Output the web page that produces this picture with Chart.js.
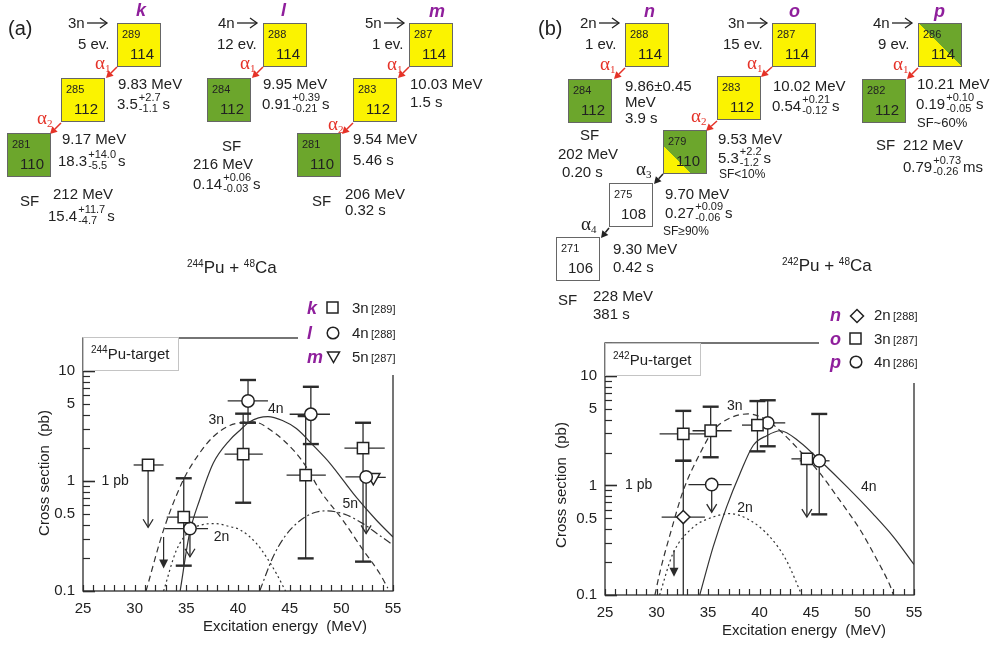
<!DOCTYPE html>
<html>
<head>
<meta charset="utf-8">
<script src="https://cdn.jsdelivr.net/npm/chart.js@4.4.1/dist/chart.umd.min.js"></script>
<style>
  html, body { margin: 0; padding: 0; background: #fff; }
  body { width: 991px; height: 646px; position: relative; overflow: hidden;
         font-family: "Liberation Sans", Arial, sans-serif; color: #222; }
  .t { position: absolute; white-space: nowrap; line-height: 1; }
  .ss { display: inline-block; font-size: 11px; line-height: 11px; vertical-align: -3px;
        margin-top: -4.6px; margin-left: 1px; margin-right: 2px; }
  .ss span { display: block; }
  .nuc { position: absolute; width: 42px; height: 42px; border: 1.5px solid #666; }
  .nuc .a { position: absolute; left: 4px; top: 5px; font-size: 11px; line-height: 1; }
  .nuc .z { position: absolute; right: 6px; bottom: 5px; font-size: 15px; line-height: 1; }
  .alpha { font-family: "Liberation Serif", "DejaVu Serif", serif; font-size: 19px; color: #e53228; }
  .alpha.k { color: #222; }
  .alpha .sb { font-size: 11px; vertical-align: -3px; }
  .tag { color: #8f1f9c; font-weight: bold; font-style: italic; font-size: 18px; }
  .chartbox { position: absolute; }
  .legend { position: absolute; background: #fff; }
  .legend .row { position: absolute; left: 0; white-space: nowrap; height: 20px; line-height: 20px; font-size: 15px; }
  .legend .row span { position: absolute; top: 0; }
  .legend .ref { font-size: 11px; }
  .target { position: absolute; border: 1px solid #c4c4c4; background: #fff; box-sizing: border-box; }
  .target span { position: absolute; left: 7px; top: 8px; font-size: 15px; line-height: 1; white-space: nowrap; }
  sup { font-size: 10px; vertical-align: 6px; line-height: 0; }
</style>
</head>
<body>
<div class="chartbox" id="boxA" style="left:0px;top:290px;width:420px;height:351px;"><canvas id="chartA"></canvas></div>
<div class="chartbox" id="boxB" style="left:522px;top:300px;width:419px;height:345px;"><canvas id="chartB"></canvas></div>

<script>
// ---------------- axis values ----------------
const energyTicks = [25, 30, 35, 40, 45, 50, 55];
const sigmaTickLabels = [0.1, 0.5, 1, 5, 10];

// ---------------- 244Pu + 48Ca ----------------
// k : 3n channel, 289-114
const kEnergy   = [31.3, 34.75, 40.5, 46.55, 52.1];
const kSigma    = [1.40, 0.47, 1.76, 1.13, 1.99];
const kSigmaLo  = [null, 0.17, 0.635, 0.198, 0.185];
const kSigmaHi  = [null, 1.06, 4.1, 3.9, 3.39];
const kEnergyLo = [29.9, 33.1, 38.7, 44.7, 50.3];
const kEnergyHi = [32.8, 37.1, 42.4, 48.5, 54.2];
const kLimitTo  = [0.38, null, null, null, null];
// l : 4n channel, 288-114
const lEnergy   = [35.35, 40.97, 47.05, 52.4];
const lSigma    = [0.37, 5.35, 4.05, 1.09];
const lSigmaLo  = [null, 3.39, 2.17, null];
const lSigmaHi  = [null, 8.3, 7.2, null];
const lEnergyLo = [32.9, 39.0, 45.0, 50.4];
const lEnergyHi = [37.1, 42.9, 48.9, 53.6];
const lLimitTo  = [0.205, null, null, 0.334];
// m : 5n channel, 287-114
const mEnergy   = [53.1];
const mSigma    = [1.08];
const mEnergyLo = [52.0];
const mEnergyHi = [54.3];
// 2n upper limit
const pu244Limit2nEnergy = [32.8];
const pu244Limit2nFrom   = [0.31];
const pu244Limit2nTo     = [0.16];
// calculated excitation functions
const pu244Curve2nE = [32.8, 34.05, 35.3, 36.5, 37.8, 39.2, 40.2, 41.8, 42.8, 43.7, 44.6];
const pu244Curve2nS = [0.1, 0.236, 0.35, 0.4, 0.41, 0.385, 0.36, 0.27, 0.2, 0.145, 0.1];
const pu244Curve3nE = [31.1, 32.8, 34.7, 36.2, 37.6, 39.2, 40.5, 41.5, 43.4, 45.5, 46.6, 47.9, 50.15, 52.1, 53.7, 54.5];
const pu244Curve3nS = [0.1, 0.36, 1.02, 1.75, 2.53, 3.2, 3.42, 3.45, 2.8, 1.85, 1.35, 0.83, 0.44, 0.236, 0.145, 0.106];
const pu244Curve4nE = [34.4, 35.3, 36.3, 37.6, 39.2, 40.2, 41.1, 42.9, 44.3, 45.65, 47.3, 48.9, 51.4, 53.4, 55];
const pu244Curve4nS = [0.1, 0.33, 0.68, 1.45, 2.36, 2.9, 3.45, 3.85, 3.55, 3.0, 2.1, 1.45, 0.72, 0.44, 0.31];
const pu244Curve5nE = [42.1, 43.4, 44.5, 45.65, 47.0, 48.5, 50.3, 52.1, 53.5, 55];
const pu244Curve5nS = [0.1, 0.205, 0.31, 0.41, 0.5, 0.536, 0.5, 0.41, 0.33, 0.262];

// ---------------- 242Pu + 48Ca ----------------
// n : 2n channel, 288-114
const nEnergy   = [32.6];
const nSigma    = [0.515];
const nSigmaLo  = [0.05];
const nSigmaHi  = [1.68];
const nEnergyLo = [30.5];
const nEnergyHi = [34.7];
// o : 3n channel, 287-114
const oEnergy   = [32.6, 35.26, 39.8, 44.6];
const oSigma    = [2.96, 3.16, 3.56, 1.75];
const oSigmaLo  = [1.68, 1.81, 2.05, null];
const oSigmaHi  = [4.8, 5.24, 5.9, null];
const oEnergyLo = [30.3, 33.5, 38.3, 43.1];
const oEnergyHi = [34.9, 37.3, 40.5, 45.3];
const oLimitTo  = [null, null, null, 0.515];
// p : 4n channel, 286-114
const pEnergy   = [35.36, 40.8, 45.8];
const pSigma    = [1.02, 3.73, 1.68];
const pSigmaLo  = [null, 2.28, 0.545];
const pSigmaHi  = [null, 6.0, 4.5];
const pEnergyLo = [33.1, 39.8, 43.9];
const pEnergyHi = [37.3, 42.5, 46.8];
const pLimitTo  = [0.57, null, null];
// 2n upper limit
const pu242Limit2nEnergy = [31.7];
const pu242Limit2nFrom   = [0.256];
const pu242Limit2nTo     = [0.147];
// calculated excitation functions
const pu242Curve2nE = [30.3, 31.6, 33.6, 35.5, 37.1, 39.1, 41.0, 42.6, 44.1];
const pu242Curve2nS = [0.1, 0.239, 0.418, 0.515, 0.553, 0.48, 0.34, 0.208, 0.1];
const pu242Curve3nE = [29.85, 30.34, 31.4, 32.6, 34.2, 35.5, 37.1, 38.9, 40.7, 42.0, 43.9, 45.9, 47.8, 49.8, 51.4, 52.7, 53.0];
const pu242Curve3nS = [0.1, 0.163, 0.38, 0.9, 1.94, 3.16, 4.11, 4.5, 3.96, 3.16, 2.08, 1.28, 0.73, 0.39, 0.21, 0.12, 0.1];
const pu242Curve4nE = [34.2, 35.5, 36.8, 38.1, 39.4, 40.7, 42.0, 43.9, 45.9, 48.5, 51.0, 53.0, 55];
const pu242Curve4nS = [0.1, 0.275, 0.635, 1.28, 2.33, 2.85, 3.16, 2.5, 1.68, 0.97, 0.553, 0.34, 0.19];

// ---------------- helpers ----------------
const INK = '#2b2b2b';
const zip = (xs, ys) => xs.map((x, i) => ({ x, y: ys[i] }));
function points(E, S, sLo, sHi, eLo, eHi, lim) {
  return E.map((x, i) => ({
    x, y: S[i],
    yLo: sLo ? sLo[i] : null, yHi: sHi ? sHi[i] : null,
    xLo: eLo ? eLo[i] : null, xHi: eHi ? eHi[i] : null,
    limitTo: lim ? lim[i] : null
  }));
}
function limits(E, from, to) {
  return E.map((x, i) => ({ x, y: from[i], limitTo: to[i] }));
}
function curve(E, S, dash) {
  return { type: 'line', data: zip(E, S), borderColor: '#333', borderWidth: 1.2,
           borderDash: dash, pointRadius: 0, cubicInterpolationMode: 'monotone', fill: false, order: 2 };
}
function markers(data, style, radius, rotation) {
  return { type: 'scatter', data, errorBars: true, pointStyle: style, pointRadius: radius,
           rotation: rotation || 0, pointBackgroundColor: '#fff', pointBorderColor: '#222',
           pointBorderWidth: 1.5, order: 1 };
}

function line(ctx, x1, y1, x2, y2) { ctx.beginPath(); ctx.moveTo(x1, y1); ctx.lineTo(x2, y2); ctx.stroke(); }

const errorBarPlugin = {
  id: 'errorBars',
  beforeDatasetsDraw(chart) {
    const { ctx, chartArea: a, scales: { x, y } } = chart;
    ctx.save();
    ctx.beginPath(); ctx.rect(a.left, a.top, a.width, a.height); ctx.clip();
    ctx.strokeStyle = INK; ctx.fillStyle = INK;
    chart.data.datasets.forEach(ds => {
      if (ds.errorBars) {
        ds.data.forEach(p => {
          const px = x.getPixelForValue(p.x), py = y.getPixelForValue(p.y);
          ctx.lineWidth = 1.3;
          if (p.xLo != null) line(ctx, x.getPixelForValue(p.xLo), py, x.getPixelForValue(p.xHi), py);
          if (p.yLo != null) {
            const lo = y.getPixelForValue(p.yLo), hi = y.getPixelForValue(p.yHi);
            line(ctx, px, lo, px, hi);
            ctx.lineWidth = 2.4;
            line(ctx, px - 8, lo, px + 8, lo);
            line(ctx, px - 8, hi, px + 8, hi);
            ctx.lineWidth = 1.3;
          }
          if (p.limitTo != null) {
            const ty = y.getPixelForValue(p.limitTo);
            line(ctx, px, py, px, ty);
            ctx.beginPath(); ctx.moveTo(px - 5, ty - 8); ctx.lineTo(px, ty); ctx.lineTo(px + 5, ty - 8); ctx.stroke();
          }
        });
      }
      if (ds.filledArrows) {
        ds.data.forEach(p => {
          const px = x.getPixelForValue(p.x), py = y.getPixelForValue(p.y), ty = y.getPixelForValue(p.limitTo);
          ctx.lineWidth = 1.2;
          line(ctx, px, py, px, ty - 6);
          ctx.beginPath(); ctx.moveTo(px - 4.5, ty - 9); ctx.lineTo(px + 4.5, ty - 9); ctx.lineTo(px, ty); ctx.closePath(); ctx.fill();
        });
      }
    });
    ctx.restore();
  },
  afterDraw(chart, args, opts) {
    const { ctx, chartArea: a, scales: { x, y } } = chart;
    ctx.save();
    ctx.strokeStyle = INK; ctx.fillStyle = '#222';
    // frame
    ctx.lineWidth = 1.3;
    ctx.strokeRect(a.left, a.top, a.width, a.height);
    // inward ticks on energy axis
    ctx.lineWidth = 1.2;
    for (let e = 25; e <= 55; e++) {
      const px = Math.round(x.getPixelForValue(e)) + 0.5;
      line(ctx, px, a.bottom, px, a.bottom - 6);
    }
    // inward ticks on log axis
    for (let dec = 0.1; dec < 20; dec *= 10) {
      for (let m = 1; m <= 9; m++) {
        const v = dec * m;
        if (v > 20) break;
        const py = Math.round(y.getPixelForValue(v)) + 0.5;
        const len = m === 1 ? 12 : 7;
        ctx.lineWidth = m === 1 ? 1.6 : 1.2;
        line(ctx, a.left, py, a.left + len, py);
      }
    }
    // annotations in data coordinates
    ctx.font = '14px "Liberation Sans", Arial, sans-serif';
    ctx.textBaseline = 'middle';
    (opts.labels || []).forEach(l => {
      ctx.textAlign = l.align || 'center';
      ctx.fillText(l.text, x.getPixelForValue(l.x), y.getPixelForValue(l.y));
    });
    // axis titles
    ctx.font = '15px "Liberation Sans", Arial, sans-serif';
    ctx.textAlign = 'center';
    ctx.fillText('Excitation energy  (MeV)', a.left + opts.xTitleDx, a.bottom + 36);
    ctx.save();
    ctx.translate(a.left + opts.yTitleDx, a.bottom + opts.yTitleDy);
    ctx.rotate(-Math.PI / 2);
    ctx.fillText('Cross section  (pb)', 0, 0);
    ctx.restore();
    ctx.restore();
  }
};

function makeChart(id, datasets, padTop, labels, xTitleDx, yTitleDx, yTitleDy) {
  return new Chart(document.getElementById(id), {
    data: { datasets },
    plugins: [errorBarPlugin],
    options: {
      responsive: true, maintainAspectRatio: false, animation: false,
      layout: { padding: { top: padTop, right: 27, left: 0, bottom: 0 } },
      plugins: { legend: { display: false }, tooltip: { enabled: false },
                 errorBars: { labels, xTitleDx, yTitleDx, yTitleDy } },
      scales: {
        x: { type: 'linear', min: 25, max: 55,
             afterFit: s => { s.height = 50; },
             afterBuildTicks: s => { s.ticks = energyTicks.map(v => ({ value: v })); },
             grid: { display: false, drawTicks: false }, border: { display: false },
             ticks: { padding: 9, color: '#222', font: { size: 15, family: '"Liberation Sans", Arial' }, autoSkip: false, maxRotation: 0 } },
        y: { type: 'logarithmic', min: 0.1, max: 20,
             afterFit: s => { s.width = 83; },
             afterBuildTicks: s => { s.ticks = sigmaTickLabels.map(v => ({ value: v })); },
             grid: { display: false, drawTicks: false }, border: { display: false },
             ticks: { padding: 8, color: '#222', font: { size: 15, family: '"Liberation Sans", Arial' }, autoSkip: false,
                      callback: v => String(v) } }
      }
    }
  });
}

// 244Pu-target
makeChart('chartA', [
  curve(pu244Curve2nE, pu244Curve2nS, [2, 3]),
  curve(pu244Curve3nE, pu244Curve3nS, [6, 4]),
  curve(pu244Curve4nE, pu244Curve4nS, []),
  curve(pu244Curve5nE, pu244Curve5nS, [8, 3, 2, 3]),
  { type: 'scatter', data: limits(pu244Limit2nEnergy, pu244Limit2nFrom, pu244Limit2nTo), filledArrows: true, pointRadius: 0, order: 1 },
  markers(points(kEnergy, kSigma, kSigmaLo, kSigmaHi, kEnergyLo, kEnergyHi, kLimitTo), 'rect', 8),
  markers(points(lEnergy, lSigma, lSigmaLo, lSigmaHi, lEnergyLo, lEnergyHi, lLimitTo), 'circle', 6.2),
  markers(points(mEnergy, mSigma, null, null, mEnergyLo, mEnergyHi, null), 'triangle', 7.5, 180)
], 48, [
  { text: '1 pb', x: 26.8, y: 1.0, align: 'left' },
  { text: '3n', x: 37.9, y: 3.55 },
  { text: '4n', x: 43.65, y: 4.5 },
  { text: '5n', x: 50.86, y: 0.62 },
  { text: '2n', x: 38.4, y: 0.31 }
], 202, -38, -118);

// 242Pu-target
makeChart('chartB', [
  curve(pu242Curve2nE, pu242Curve2nS, [2, 3]),
  curve(pu242Curve3nE, pu242Curve3nS, [6, 4]),
  curve(pu242Curve4nE, pu242Curve4nS, []),
  { type: 'scatter', data: limits(pu242Limit2nEnergy, pu242Limit2nFrom, pu242Limit2nTo), filledArrows: true, pointRadius: 0, order: 1 },
  markers(points(nEnergy, nSigma, nSigmaLo, nSigmaHi, nEnergyLo, nEnergyHi, null), 'rectRot', 6.6),
  markers(points(oEnergy, oSigma, oSigmaLo, oSigmaHi, oEnergyLo, oEnergyHi, oLimitTo), 'rect', 8),
  markers(points(pEnergy, pSigma, pSigmaLo, pSigmaHi, pEnergyLo, pEnergyHi, pLimitTo), 'circle', 6.2)
], 43, [
  { text: '1 pb', x: 26.94, y: 1.0, align: 'left' },
  { text: '3n', x: 37.6, y: 5.34 },
  { text: '4n', x: 50.6, y: 0.96 },
  { text: '2n', x: 38.6, y: 0.62 }
], 199, -43, -110);

// ---------------- decay chains ----------------
const YEL = '#fbf300', GRN = '#6ca62c';
function txt(x, cy, html, size, cls) {
  size = size || 15;
  const d = document.createElement('div');
  d.className = 't' + (cls ? ' ' + cls : '');
  d.style.left = x + 'px';
  d.style.top = (cy - 0.49 * size) + 'px';
  d.style.fontSize = size + 'px';
  d.innerHTML = html;
  document.body.appendChild(d);
  return d;
}
function pm(main, up, dn, unit) {
  return main + '<span class="ss"><span>' + up + '</span><span>' + dn + '</span></span>' + unit;
}
function nuc(x, y, a, z, bg) {
  const d = document.createElement('div');
  d.className = 'nuc';
  d.style.left = x + 'px'; d.style.top = y + 'px';
  d.style.background = bg;
  d.innerHTML = '<span class="a">' + a + '</span><span class="z">' + z + '</span>';
  document.body.appendChild(d);
}
function alpha(x, cy, n, black) {
  const d = txt(x, cy, 'α<span class="sb">' + n + '</span>', 19, 'alpha' + (black ? ' k' : ''));
  return d;
}
function tag(cx, cy, s) {
  const d = txt(cx - 6, cy, s, 18, 'tag');
}

const NS = 'http://www.w3.org/2000/svg';
const svg = document.createElementNS(NS, 'svg');
svg.setAttribute('width', 991); svg.setAttribute('height', 646);
svg.style.cssText = 'position:absolute;left:0;top:0;pointer-events:none;';
document.body.appendChild(svg);
function svgEl(name, attrs) {
  const e = document.createElementNS(NS, name);
  for (const k in attrs) e.setAttribute(k, attrs[k]);
  svg.appendChild(e);
  return e;
}
function decayArrow(x1, y1, x2, y2, color) {
  const dx = x2 - x1, dy = y2 - y1, L = Math.hypot(dx, dy), ux = dx / L, uy = dy / L;
  const hl = 7, hw = 3.8;
  const bx = x2 - ux * hl, by = y2 - uy * hl;
  svgEl('line', { x1, y1, x2: bx, y2: by, stroke: color, 'stroke-width': 1.5 });
  svgEl('polygon', { points: `${x2},${y2} ${bx - uy * hw},${by + ux * hw} ${bx + uy * hw},${by - ux * hw}`, fill: color });
}
function beamArrow(x1, x2, y) {
  svgEl('line', { x1, y1: y, x2, y2: y, stroke: '#222', 'stroke-width': 1.3 });
  svgEl('polyline', { points: `${x2 - 7},${y - 5} ${x2},${y} ${x2 - 7},${y + 5}`, fill: 'none', stroke: '#222', 'stroke-width': 1.3 });
}
function beam(x, cy, label) { txt(x, cy, label, 15); beamArrow(x + 19, x + 39, cy + 1); }
const RED = '#e53228';

// (a) 244Pu + 48Ca
txt(8, 28, '(a)', 20);
// chain k
beam(68, 22, '3n'); txt(78, 43, '5 ev.'); tag(142, 10, 'k');
nuc(117, 23, '289', '114', YEL);
alpha(95, 62, 1); decayArrow(117, 67, 106, 78, RED);
nuc(61, 78, '285', '112', YEL);
txt(118, 83, '9.83 MeV'); txt(117, 103, pm('3.5', '+2.7', '-1.1', 's'));
alpha(37, 117, 2); decayArrow(61, 123, 50, 134, RED);
nuc(7, 133, '281', '110', GRN);
txt(62, 138, '9.17 MeV'); txt(58, 160, pm('18.3', '+14.0', '-5.5', 's'));
txt(20, 200, 'SF'); txt(53, 193, '212 MeV'); txt(48, 215, pm('15.4', '+11.7', '-4.7', 's'));
// chain l
beam(218, 22, '4n'); txt(217, 43, '12 ev.'); tag(287, 10, 'l');
nuc(263, 23, '288', '114', YEL);
alpha(240, 62, 1); decayArrow(263, 67, 252, 78, RED);
nuc(207, 78, '284', '112', GRN);
txt(263, 83, '9.95 MeV'); txt(262, 103, pm('0.91', '+0.39', '-0.21', 's'));
txt(222, 145, 'SF'); txt(193, 163, '216 MeV'); txt(193, 183, pm('0.14', '+0.06', '-0.03', 's'));
// chain m
beam(365, 22, '5n'); txt(372, 43, '1 ev.'); tag(435, 11, 'm');
nuc(409, 23, '287', '114', YEL);
alpha(387, 63, 1); decayArrow(409, 67, 398, 78, RED);
nuc(353, 78, '283', '112', YEL);
txt(410, 83, '10.03 MeV'); txt(410, 101, '1.5 s');
alpha(328, 123, 2); decayArrow(353, 123, 342, 134, RED);
nuc(297, 133, '281', '110', GRN);
txt(353, 138, '9.54 MeV'); txt(353, 159, '5.46 s');
txt(312, 200, 'SF'); txt(345, 193, '206 MeV'); txt(345, 209, '0.32 s');
txt(187, 267, '<sup>244</sup>Pu + <sup>48</sup>Ca', 17);

// (b) 242Pu + 48Ca
txt(538, 28, '(b)', 20);
// chain n
beam(580, 22, '2n'); txt(585, 43, '1 ev.'); tag(650, 11, 'n');
nuc(625, 23, '288', '114', YEL);
alpha(600, 63, 1); decayArrow(625, 68, 614, 79, RED);
nuc(568, 79, '284', '112', GRN);
txt(625, 85, '9.86±0.45'); txt(625, 101, 'MeV'); txt(625, 117, '3.9 s');
txt(580, 134, 'SF'); txt(558, 153, '202 MeV'); txt(562, 171, '0.20 s');
// chain o
beam(728, 22, '3n'); txt(723, 43, '15 ev.'); tag(795, 11, 'o');
nuc(772, 23, '287', '114', YEL);
alpha(747, 62, 1); decayArrow(772, 67, 761, 77, RED);
nuc(717, 76, '283', '112', YEL);
txt(773, 85, '10.02 MeV'); txt(772, 105, pm('0.54', '+0.21', '-0.12', 's'));
alpha(691, 115, 2); decayArrow(717, 121, 706, 131, RED);
nuc(663, 130, '279', '110', 'linear-gradient(to bottom left, ' + GRN + ' 68%, ' + YEL + ' 68%)');
txt(718, 138, '9.53 MeV'); txt(718, 157, pm('5.3', '+2.2', '-1.2', 's')); txt(719, 174, 'SF&lt;10%', 12);
alpha(636, 168, 3, true); decayArrow(663, 174, 654, 184, '#222');
nuc(609, 183, '275', '108', '#fff');
txt(665, 193, '9.70 MeV'); txt(665, 212, pm('0.27', '+0.09', '-0.06', 's')); txt(663, 231, 'SF≥90%', 12);
alpha(581, 223, 4, true); decayArrow(609, 228, 601, 238, '#222');
nuc(556, 237, '271', '106', '#fff');
txt(613, 248, '9.30 MeV'); txt(613, 266, '0.42 s');
txt(558, 299, 'SF'); txt(593, 295, '228 MeV'); txt(593, 313, '381 s');
// chain p
beam(873, 22, '4n'); txt(878, 43, '9 ev.'); tag(940, 11, 'p');
nuc(918, 23, '286', '114', 'linear-gradient(to bottom left, ' + GRN + ' 50%, ' + YEL + ' 50%)');
alpha(893, 63, 1); decayArrow(918, 68, 907, 79, RED);
nuc(862, 79, '282', '112', GRN);
txt(917, 83, '10.21 MeV'); txt(916, 103, pm('0.19', '+0.10', '-0.05', 's')); txt(917, 122, 'SF~60%', 13);
txt(876, 144, 'SF'); txt(903, 144, '212 MeV'); txt(903, 166, pm('0.79', '+0.73', '-0.26', 'ms'));
txt(782, 265, '<sup>242</sup>Pu + <sup>48</sup>Ca', 17);

// ---------------- target labels and legends ----------------
function target(x, y, w, h, html) {
  const d = document.createElement('div');
  d.className = 'target';
  d.style.cssText += `left:${x}px;top:${y}px;width:${w}px;height:${h}px;`;
  d.innerHTML = '<span>' + html + '</span>';
  document.body.appendChild(d);
}
target(83, 337, 96, 34, '<sup>244</sup>Pu-target');
target(605, 343, 96, 33, '<sup>242</sup>Pu-target');

const SYM = {
  square: '<svg width="13" height="13"><rect x="1" y="1" width="11" height="11" fill="#fff" stroke="#222" stroke-width="1.5"/></svg>',
  circle: '<svg width="14" height="14"><circle cx="7" cy="7" r="5.8" fill="#fff" stroke="#222" stroke-width="1.5"/></svg>',
  tri:    '<svg width="15" height="14"><polygon points="1.5,2 13.5,2 7.5,12.5" fill="#fff" stroke="#222" stroke-width="1.5"/></svg>',
  diamond:'<svg width="16" height="16"><polygon points="8,1.5 14.5,8 8,14.5 1.5,8" fill="#fff" stroke="#222" stroke-width="1.5"/></svg>'
};
function legend(x, y, w, h, rows, tagX, symX, chX, refX, rowY) {
  const d = document.createElement('div');
  d.className = 'legend';
  d.style.cssText += `left:${x}px;top:${y}px;width:${w}px;height:${h}px;`;
  rows.forEach((r, i) => {
    const row = document.createElement('div');
    row.className = 'row';
    row.style.top = (rowY[i] - y - 10) + 'px';
    row.style.width = w + 'px';
    row.innerHTML =
      `<span class="tag" style="left:${tagX - x}px">${r[0]}</span>` +
      `<span style="left:${symX - x}px;top:3px;line-height:0">${SYM[r[1]]}</span>` +
      `<span style="left:${chX - x}px">${r[2]}</span>` +
      `<span class="ref" style="left:${refX - x}px;top:1px">[${r[3]}]</span>`;
    d.appendChild(row);
  });
  document.body.appendChild(d);
}
legend(298, 292, 105, 83, [['k', 'square', '3n', 289], ['l', 'circle', '4n', 288], ['m', 'tri', '5n', 287]],
       307, 326, 352, 371, [308, 333, 357]);
legend(819, 302, 110, 81, [['n', 'diamond', '2n', 288], ['o', 'square', '3n', 287], ['p', 'circle', '4n', 286]],
       830, 849, 874, 893, [315, 339, 362]);
</script>
</body>
</html>
